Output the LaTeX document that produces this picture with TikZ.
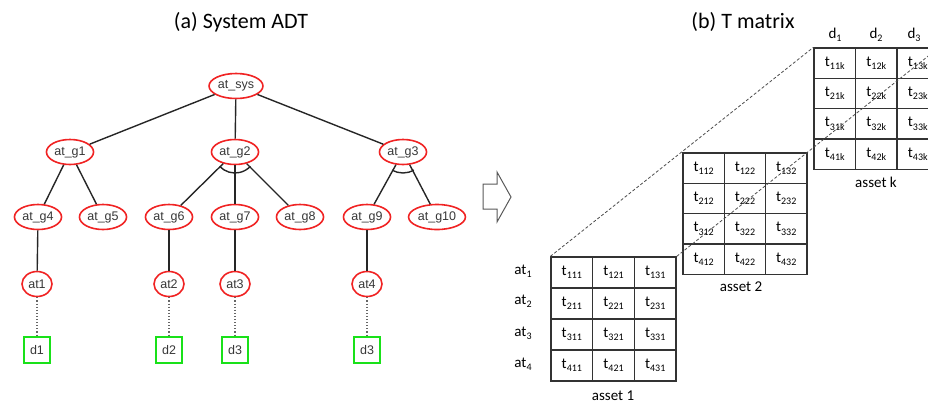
\documentclass[tikz,border=0pt]{standalone}
\usepackage{fontspec}
\setmainfont{Carlito}
\newfontfamily\arialf{Liberation Sans}
\usetikzlibrary{shapes.geometric}
\definecolor{treered}{RGB}{240,35,35}
\definecolor{boxgreen}{RGB}{25,225,25}
\definecolor{txtgray}{RGB}{55,55,55}
\newcommand\sbs[1]{\raisebox{-0.22em}{\fontsize{10}{10}\selectfont #1}}
\begin{document}
\begin{tikzpicture}[x=1pt,y=1pt,
 goal/.style={ellipse, draw=treered, line width=1.6pt, inner xsep=1pt, inner ysep=0pt,
   minimum height=25pt, minimum width=30pt, font=\arialf\fontsize{12.5}{14}\selectfont, text=txtgray},
 dbox/.style={rectangle, draw=boxgreen, line width=1.6pt, minimum size=26pt, inner sep=0pt,
   font=\arialf\fontsize{12.5}{14}\selectfont, text=txtgray},
 edge/.style={line width=1.4pt, black!85},
 dotedge/.style={dotted, line width=1.1pt, black!60},
 cell/.style={rectangle, draw=black!80, line width=1.3pt, minimum width=41.5pt,
   minimum height=30.5pt, inner sep=0pt, font=\fontsize{15}{17}\selectfont},
 lbl/.style={font=\fontsize{15}{17}\selectfont, inner sep=0pt},
 ttl/.style={font=\fontsize{22}{26}\selectfont, inner sep=0pt},
 dashline/.style={dashed, dash pattern=on 3pt off 2pt, line width=0.8pt, black!70},
 ]
\useasboundingbox (0,0) rectangle (928,-405);

% titles
\node[ttl] (ta) at (241,-22) {(a) System ADT};
\node[ttl] (tb) at (743,-22) {(b) T matrix};

% tree
\node[goal] (sys) at (236,-86) {at\_sys};
\node[goal] (g1) at (70,-152) {at\_g1};
\node[goal] (g2) at (235,-152) {at\_g2};
\node[goal] (g3) at (403,-152) {at\_g3};
\node[goal] (g4) at (38,-217) {at\_g4};
\node[goal] (g5) at (103,-217) {at\_g5};
\node[goal] (g6) at (169,-217) {at\_g6};
\node[goal] (g7) at (235,-217) {at\_g7};
\node[goal] (g8) at (300,-217) {at\_g8};
\node[goal] (g9) at (367,-217) {at\_g9};
\node[goal] (g10) at (437,-217) {at\_g10};
\node[goal] (a1) at (37,-284) {at1};
\node[goal] (a2) at (169,-284) {at2};
\node[goal] (a3) at (235,-284) {at3};
\node[goal] (a4) at (367,-284) {at4};
\node[dbox] (d1) at (37,-350) {d1};
\node[dbox] (d2) at (169,-350) {d2};
\node[dbox] (d3) at (235,-350) {d3};
\node[dbox] (d4) at (367,-350) {d3};

\draw[edge] (sys) -- (g1);
\draw[edge] (sys) -- (g2);
\draw[edge] (sys) -- (g3);
\draw[edge] (g1) -- (g4);
\draw[edge] (g1) -- (g5);
\draw[edge] (g2) -- (g6);
\draw[edge] (g2) -- (g7);
\draw[edge] (g2) -- (g8);
\draw[edge] (g3) -- (g9);
\draw[edge] (g3) -- (g10);
\draw[edge] (g4) -- (a1);
\draw[edge] (g6) -- (a2);
\draw[edge] (g7) -- (a3);
\draw[edge] (g9) -- (a4);
\draw[edge] ([shift={(-137:21)}]g2.center) arc[start angle=-137, end angle=-43, radius=21];
\draw[edge] ([shift={(-121:21)}]g3.center) arc[start angle=-121, end angle=-59, radius=21];
\draw[dotedge] (a1) -- (d1);
\draw[dotedge] (a2) -- (d2);
\draw[dotedge] (a3) -- (d3);
\draw[dotedge] (a4) -- (d4);

% block arrow
\draw[black!65, line width=1pt, line join=miter] (483,-184) -- (497,-184) -- (497,-172) -- (511,-197)
  -- (497,-222) -- (497,-209) -- (483,-209) -- cycle;

% matrices
\foreach \r in {1,...,4} {
  \foreach \c in {1,2,3} {
    \node[cell, minimum width=41.7pt, minimum height=31pt] (m1-\r-\c) at ({551+41.7*\c-20.85},{-257-31*\r+15.5}) {t\sbs{\r\c1}};
    \node[cell, minimum width=41.3pt, minimum height=30.3pt] (m2-\r-\c) at ({683+41.3*\c-20.65},{-153-30.3*\r+15.15}) {t\sbs{\r\c2}};
    \node[cell, minimum width=41.5pt, minimum height=30.3pt] (mk-\r-\c) at ({814+41.5*\c-20.75},{-48-30.3*\r+15.15}) {t\sbs{\r\c k}};
  }
}
\node[lbl] (r1) at (523,-271) {at\sbs{1}};
\node[lbl] (r2) at (523,-301) {at\sbs{2}};
\node[lbl] (r3) at (523,-333) {at\sbs{3}};
\node[lbl] (r4) at (523,-364) {at\sbs{4}};
\node[lbl] (c1) at (835,-35) {d\sbs{1}};
\node[lbl] (c2) at (876,-35) {d\sbs{2}};
\node[lbl] (c3) at (914,-35) {d\sbs{3}};
\node[lbl] (as1) at (613,-396) {asset 1};
\node[lbl] (as2) at (741,-287) {asset 2};
\node[lbl] (ask) at (876,-182) {asset k};

\draw[dashline] (m1-1-1.north west) -- (mk-1-1.north west);
\draw[dashline] (m1-1-3.north east) -- (mk-1-3.north east);
\end{tikzpicture}
\end{document}
